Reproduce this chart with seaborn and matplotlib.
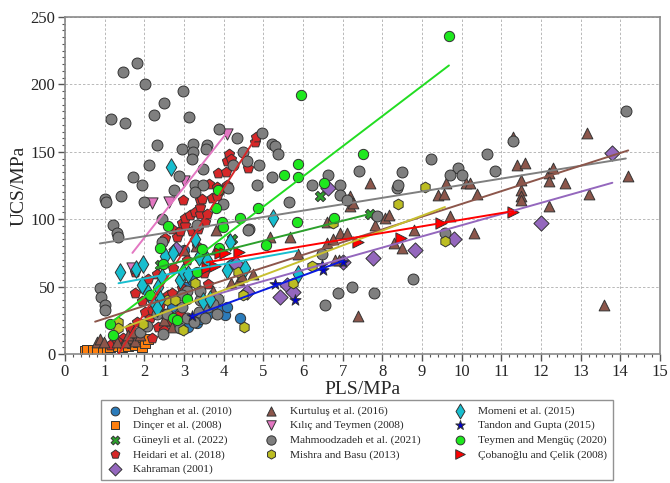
import numpy as np
import pandas as pd
import matplotlib
matplotlib.use("Agg")
import matplotlib.pyplot as plt
from matplotlib.ticker import MultipleLocator
import seaborn as sns

# ---------------- data ----------------
studies = ["Dehghan et al. (2010)", "Dinçer et al. (2008)", "Güneyli et al. (2022)",
           "Heidari et al. (2018)", "Kahraman (2001)", "Kurtuluş et al. (2016)",
           "Kılıç and Teymen (2008)", "Mahmoodzadeh et al. (2021)", "Mishra and Basu (2013)",
           "Momeni et al. (2015)", "Tandon and Gupta (2015)", "Teymen and Mengüç (2020)",
           "Çobanoğlu and Çelik (2008)"]

dehghan_x = [2.5, 2.7, 3.0, 3.05, 3.2, 3.32, 3.4, 3.6, 3.9, 4.03, 4.08, 4.2, 4.4, 3.1]
dehghan_y = [30, 35, 77, 50, 55, 23, 26, 30, 33, 29, 35, 67, 27, 20]

dincer_x = [0.5, 0.55, 0.7, 0.8, 0.95, 1.06, 1.13, 1.34, 1.43, 1.51, 1.6, 1.69, 1.76, 1.84, 1.94, 2.02, 2.1]
dincer_y = [2, 3, 3, 3, 2, 4, 5, 6, 5, 8, 6, 8, 7, 9, 5, 8, 11]

guneyli_x = [2.4, 3.4, 4.2, 6.43, 7.69]
guneyli_y = [66, 72, 85, 117, 104]

heidari_x = [1.13, 1.46, 1.64, 1.76, 1.76, 1.81, 1.94, 2.02, 2.09, 2.14, 2.19, 2.32, 2.34, 2.39,
             2.52, 2.52, 2.6, 2.65, 2.7, 2.7, 2.73, 2.82, 2.9, 2.9, 2.95, 2.95, 2.98, 3.03, 3.03,
             3.07, 3.15, 3.2, 3.28, 3.32, 3.35, 3.4, 3.4, 3.4, 3.45, 3.53, 3.57, 3.63, 3.7, 3.82,
             3.82, 3.86, 3.91, 4.06, 4.08, 4.08, 4.14, 4.19, 4.24, 4.62, 4.79, 4.82, 3.5, 3.6,
             1.3, 1.9, 2.2, 2.5]
heidari_y = [7, 12, 19, 45, 61, 24, 39, 31, 56, 27, 33, 59, 20, 36,
             30, 86, 44, 24, 45, 93, 64, 87, 30, 91, 49, 97, 114, 96, 101,
             70, 103, 91, 105, 80, 93, 104, 109, 114, 115, 98, 104, 126, 116, 117,
             124, 134, 122, 135, 125, 143, 148, 145, 140, 138, 157, 161, 60, 52,
             10, 15, 12, 18]

kahraman_x = [2.8, 4.3, 4.58, 5.42, 5.6, 5.75, 6.64, 7.0, 7.77, 8.83, 9.8, 12.0, 13.8]
kahraman_y = [78, 67, 46, 42, 51, 46, 123, 68, 71, 77, 85, 97, 149]

kurtulus_x = [13.16, 14.2, 11.4, 11.6, 11.5, 11.5, 11.5, 12.2, 12.3, 12.2, 12.6, 13.2, 7.7, 9.6,
              10.1, 10.2, 9.4, 9.55, 10.4, 7.18, 11.3, 7.18, 7.26, 7.81, 8.07, 8.17, 9.7, 8.8,
              8.3, 8.5, 10.3, 11.5, 12.2, 7.38, 13.6, 6.93, 7.1, 6.9, 6.6, 6.76, 6.81, 6.6, 5.17,
              5.67, 3.81, 4.74, 4.18, 4.39, 4.46, 5.87, 3.73, 0.8, 0.88, 0.98, 1.64, 1.81, 1.76,
              1.51, 1.31, 1.6, 1.72, 1.9, 2.5, 2.7, 3.0, 3.3, 3.8]
kurtulus_y = [164, 132, 140, 142, 129, 122, 117, 134, 138, 128, 127, 119, 127, 127,
              127, 127, 118, 119, 119, 117, 161, 110, 112, 96, 101, 103, 102, 92,
              82, 79, 90, 114, 110, 28, 36, 90, 90, 70, 82, 85, 70, 98, 87,
              87, 92, 59, 53, 55, 58, 74, 47, 9, 11, 9, 12, 14, 10,
              9, 9, 14, 16, 14, 25, 20, 77, 80, 78]

kilic_x = [1.69, 2.19, 2.62, 3.0, 4.08]
kilic_y = [64, 112, 113, 128, 163]

mahmood_x = [1.45, 1.81, 2.01, 2.5, 1.16, 1.51, 2.25, 2.32, 2.95, 2.12, 1.72, 1.94, 2.87, 2.75,
             1.01, 1.41, 2.98, 3.12, 3.88, 4.33, 4.97, 3.22, 3.22, 3.2, 3.57, 3.55, 4.49, 4.58,
             4.24, 5.21, 5.3, 5.38, 4.9, 3.47, 5.21, 4.84, 4.12, 3.27, 3.47, 3.27, 6.22, 6.64,
             6.93, 6.93, 7.1, 7.41, 8.5, 8.37, 9.23, 7.86, 9.91, 9.7, 10.0, 10.63, 10.84, 11.3,
             14.14, 9.58, 7.23, 6.88, 7.8, 6.55, 8.78, 6.48, 1.03, 1.99, 1.22, 1.31, 1.34,
             2.44, 0.88, 0.91, 1.01, 1.01, 2.44, 5.65, 4.64, 3.99, 2.94, 3.07, 3.25, 3.37, 3.53,
             3.6, 3.82, 3.87, 3.4, 3.74, 2.9, 2.31, 2.56, 3.4, 3.07, 2.48, 1.9, 2.06, 3.32, 2.95,
             8.4, 4.62]
mahmood_y = [209, 216, 200, 186, 174, 171, 177, 155, 152, 140, 131, 125, 132, 122,
             115, 117, 195, 176, 167, 160, 164, 156, 150, 145, 155, 152, 150, 143,
             140, 156, 154, 148, 140, 137, 131, 125, 123, 125, 125, 120, 125, 133,
             125, 118, 114, 136, 135, 123, 145, 102, 138, 133, 133, 148, 136, 158,
             180, 90, 50, 45, 45, 36, 56, 74, 113, 113, 96, 90, 87,
             100, 49, 42, 36, 33, 83, 113, 93, 111, 35, 27, 24, 31, 27,
             35, 30, 41, 40, 37, 19, 30, 30, 47, 47, 15, 16, 21, 96, 44,
             125, 92]

mishra_x = [1.34, 1.34, 1.97, 2.56, 2.77, 2.98, 3.28, 4.35, 4.48, 4.52, 5.76, 6.22, 6.75, 8.4, 9.07, 9.58]
mishra_y = [24, 19, 22, 40, 40, 18, 53, 61, 44, 20, 53, 65, 97, 111, 124, 84]

momeni_x = [1.39, 1.8, 1.97, 1.93, 2.1, 2.23, 2.35, 2.4, 2.31, 2.45, 2.52, 2.67, 2.73, 2.9,
            2.98, 3.1, 3.28, 3.38, 3.48, 3.57, 3.66, 4.08, 4.16, 4.54, 5.25, 5.88]
momeni_y = [61, 63, 67, 51, 45, 39, 50, 41, 34, 57, 73, 139, 75, 55,
            61, 59, 85, 72, 39, 70, 41, 62, 83, 64, 101, 59]

tandon_x = [3.2, 5.3, 5.8, 6.48, 6.5, 7.0]
tandon_y = [28, 52, 40, 66, 62, 68]

teymen_x = [1.13, 1.22, 2.14, 2.39, 2.47, 2.6, 2.72, 2.82, 3.08, 3.32, 3.45, 3.81, 3.86, 3.88,
            3.96, 3.99, 4.41, 4.87, 5.07, 5.53, 5.84, 5.87, 5.88, 5.95, 6.53, 6.78, 7.52, 9.68]
teymen_y = [22, 14, 44, 79, 67, 95, 27, 25, 41, 61, 78, 108, 122, 79,
            98, 94, 101, 108, 81, 133, 98, 131, 141, 192, 127, 101, 148, 236]

cobanoglu_x = [3.57, 3.78, 3.91, 4.03, 4.39, 7.38, 8.48, 9.48, 11.3]
cobanoglu_y = [64, 65, 75, 75, 76, 83, 86, 97, 105]

# fitted-trend segments: (x_start, x_end), (y_start, y_end)
fit_studies = ["Heidari et al. (2018)", "Kılıç and Teymen (2008)", "Teymen and Mengüç (2020)",
               "Mahmoodzadeh et al. (2021)", "Kurtuluş et al. (2016)", "Kahraman (2001)",
               "Mishra and Basu (2013)", "Çobanoğlu and Çelik (2008)", "Tandon and Gupta (2015)",
               "Momeni et al. (2015)", "Güneyli et al. (2022)"]
fit_x = [(1.35, 4.8), (1.7, 4.05), (1.1, 9.68), (0.88, 14.14), (0.76, 14.2), (3.3, 13.8),
         (1.34, 9.58), (3.57, 11.3), (3.2, 7.0), (1.35, 5.85), (2.3, 7.7)]
fit_y = [(0, 160), (75, 163), (22, 214), (82, 145), (24, 151), (40, 127),
         (18, 109), (68, 106), (28, 69), (52.5, 76.5), (64, 104)]

# ---------------- styles ----------------
colors = {
    "Dehghan et al. (2010)": "#2b7bba", "Dinçer et al. (2008)": "#ff7f0e",
    "Güneyli et al. (2022)": "#2ca02c", "Heidari et al. (2018)": "#d62728",
    "Kahraman (2001)": "#9467bd", "Kurtuluş et al. (2016)": "#8c564b",
    "Kılıç and Teymen (2008)": "#e377c2", "Mahmoodzadeh et al. (2021)": "#7f7f7f",
    "Mishra and Basu (2013)": "#bcbd22", "Momeni et al. (2015)": "#17becf",
    "Tandon and Gupta (2015)": "#0000cc", "Teymen and Mengüç (2020)": "#1ee81e",
    "Çobanoğlu and Çelik (2008)": "#ff0000"}
line_colors = dict(colors)
line_colors["Tandon and Gupta (2015)"] = "#0a1adf"
line_colors["Teymen and Mengüç (2020)"] = "#22dd22"
line_colors["Mishra and Basu (2013)"] = "#c8c030"
markers = {
    "Dehghan et al. (2010)": "o", "Dinçer et al. (2008)": "s", "Güneyli et al. (2022)": "X",
    "Heidari et al. (2018)": "p", "Kahraman (2001)": "D", "Kurtuluş et al. (2016)": "^",
    "Kılıç and Teymen (2008)": "v", "Mahmoodzadeh et al. (2021)": "o",
    "Mishra and Basu (2013)": "h", "Momeni et al. (2015)": "d", "Tandon and Gupta (2015)": "*",
    "Teymen and Mengüç (2020)": "o", "Çobanoğlu and Çelik (2008)": ">"}
sizes = {
    "Dehghan et al. (2010)": 55, "Dinçer et al. (2008)": 48, "Güneyli et al. (2022)": 55,
    "Heidari et al. (2018)": 60, "Kahraman (2001)": 60, "Kurtuluş et al. (2016)": 60,
    "Kılıç and Teymen (2008)": 65, "Mahmoodzadeh et al. (2021)": 62,
    "Mishra and Basu (2013)": 60, "Momeni et al. (2015)": 80, "Tandon and Gupta (2015)": 70,
    "Teymen and Mengüç (2020)": 55, "Çobanoğlu and Çelik (2008)": 65}

xs = [dehghan_x, dincer_x, guneyli_x, heidari_x, kahraman_x, kurtulus_x, kilic_x, mahmood_x,
      mishra_x, momeni_x, tandon_x, teymen_x, cobanoglu_x]
ys = [dehghan_y, dincer_y, guneyli_y, heidari_y, kahraman_y, kurtulus_y, kilic_y, mahmood_y,
      mishra_y, momeni_y, tandon_y, teymen_y, cobanoglu_y]

frames = []
for s, x, y in zip(studies, xs, ys):
    frames.append(pd.DataFrame({"PLS": x, "UCS": y, "study": s}))
df = pd.concat(frames, ignore_index=True)

fits = pd.DataFrame({
    "study": np.repeat(fit_studies, 2),
    "PLS": [v for pair in fit_x for v in pair],
    "UCS": [v for pair in fit_y for v in pair]})

# ---------------- figure ----------------
sns.set_style("ticks")
plt.rcParams["font.family"] = ["Liberation Serif", "DejaVu Serif"]

fig = plt.figure(figsize=(6.7, 4.83), dpi=100)
ax = fig.add_axes([0.097, 0.267, 0.888, 0.698])

for s in studies:
    sub = df[df["study"] == s]
    sns.scatterplot(data=sub, x="PLS", y="UCS", ax=ax, marker=markers[s], color=colors[s],
                    s=sizes[s], edgecolor="#333333", linewidth=0.7, label=s, zorder=2)

for s in fit_studies:
    sub = fits[fits["study"] == s]
    sns.lineplot(data=sub, x="PLS", y="UCS", ax=ax, color=line_colors[s], linewidth=1.4,
                 legend=False, zorder=3, sort=False)

ax.set_xlim(0, 15)
ax.set_ylim(0, 250)
ax.xaxis.set_major_locator(MultipleLocator(1))
ax.xaxis.set_minor_locator(MultipleLocator(0.2))
ax.yaxis.set_major_locator(MultipleLocator(50))
ax.yaxis.set_minor_locator(MultipleLocator(5))
ax.grid(True, which="major", color="#b8b8b8", linestyle=(0, (2.5, 2)), linewidth=0.7)
ax.set_axisbelow(True)
for sp in ax.spines.values():
    sp.set_color("#8a8a8a")
    sp.set_linewidth(1.2)
ax.tick_params(axis="both", which="major", direction="out", length=5, width=1,
               color="#555555", labelsize=12, pad=2)
ax.tick_params(axis="both", which="minor", direction="out", length=2.5, width=0.8,
               color="#555555")
ax.set_xlabel("PLS/MPa", fontsize=14, labelpad=1)
ax.set_ylabel("UCS/MPa", fontsize=14, labelpad=2)

handles, labels = ax.get_legend_handles_labels()
if ax.get_legend():
    ax.get_legend().remove()
leg = fig.legend(handles, labels, ncol=3, loc="upper left",
                 bbox_to_anchor=(101 / 670, 1 - 400 / 483, 512 / 670, 0.0), mode="expand",
                 fontsize=8.2, frameon=True, fancybox=False, edgecolor="#777777",
                 labelspacing=0.38, handletextpad=0.9, borderpad=0.5, columnspacing=1.0,
                 handlelength=1.4, borderaxespad=0, markerscale=0.85)
leg.get_frame().set_linewidth(1.0)

fig.savefig("out.png", dpi=100)
